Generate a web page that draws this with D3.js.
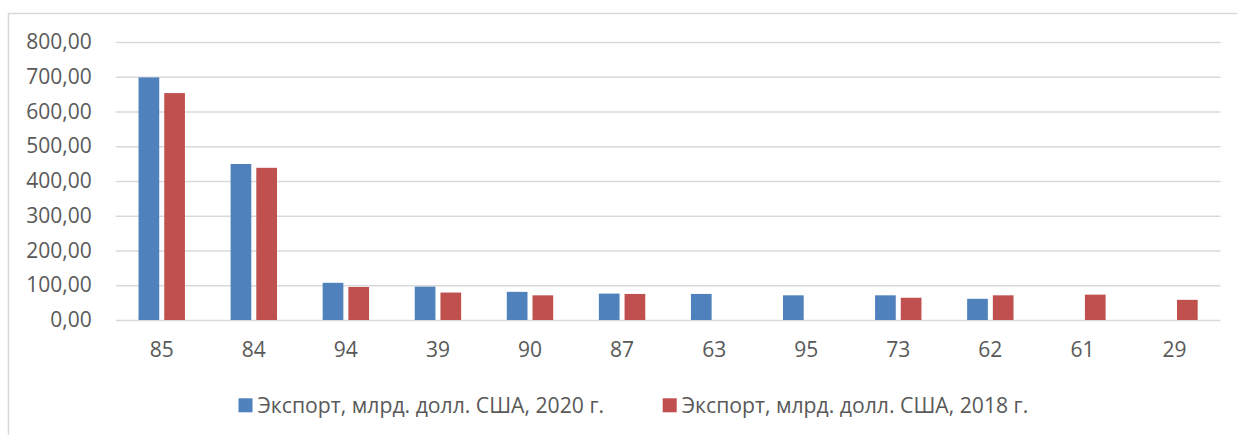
<!DOCTYPE html>
<html>
<head>
<meta charset="utf-8">
<script src="https://cdn.jsdelivr.net/npm/d3@7"></script>
<style>
  html, body { margin: 0; padding: 0; background: #fff; }
  svg { display: block; }
  text { font-family: "Open Sans", sans-serif; fill: #595959; }
</style>
</head>
<body>
<svg id="chart" width="1237" height="435"></svg>
<script>
const categories = ["85", "84", "94", "39", "90", "87", "63", "95", "73", "62", "61", "29"];
const export2020 = [698, 449, 107, 96, 81, 76, 75, 71, 71, 61, null, null];
const export2018 = [653, 438, 95, 79, 71, 75, null, null, 64, 71, 73, 58];
const seriesNames = ["Экспорт, млрд. долл. США, 2020 г.", "Экспорт, млрд. долл. США, 2018 г."];
const seriesColors = ["#4F81BD", "#C0504D"];
const yTicks = [0, 100, 200, 300, 400, 500, 600, 700, 800];

const svg = d3.select("#chart");

// frame
svg.append("rect")
  .attr("x", 8.5).attr("y", 13.5)
  .attr("width", 1240).attr("height", 430)
  .attr("fill", "none").attr("stroke", "#D9D9D9").attr("stroke-width", 1.5);

const plotLeft = 115.7, plotRight = 1220.5, plotTop = 42, plotBottom = 320;

const y = d3.scaleLinear().domain([0, 800]).range([plotBottom, plotTop]);
const x0 = d3.scaleBand().domain(categories).range([plotLeft, plotRight])
  .paddingInner(0.496).paddingOuter(0.248);
const x1 = d3.scaleBand().domain([0, 1]).range([0, x0.bandwidth()])
  .paddingInner(0.195).paddingOuter(0);

const fmt = v => d3.format(".2f")(v).replace(".", ",");

// gridlines
const yAxis = d3.axisLeft(y).tickValues(yTicks).tickSize(-(plotRight - plotLeft)).tickFormat(fmt).tickPadding(24);
const gy = svg.append("g").attr("transform", `translate(${plotLeft},0)`).call(yAxis);
gy.select(".domain").remove();
gy.selectAll(".tick line").attr("stroke", "#D9D9D9").attr("stroke-width", 1.5);
gy.selectAll(".tick text").attr("font-size", 21).style("fill", "#595959")
  .attr("font-family", "'Open Sans', sans-serif");

// bars
const series = [export2020, export2018];
series.forEach((vals, si) => {
  svg.append("g").selectAll("rect")
    .data(categories.map((c, i) => ({ c, v: vals[i] })).filter(d => d.v != null))
    .join("rect")
    .attr("x", d => x0(d.c) + x1(si))
    .attr("width", x1.bandwidth())
    .attr("y", d => y(d.v))
    .attr("height", d => y(0) - y(d.v))
    .attr("fill", seriesColors[si]);
});

// x axis
const xAxis = d3.axisBottom(x0).tickSize(0).tickPadding(22);
const gx = svg.append("g").attr("transform", `translate(0,${plotBottom})`).call(xAxis);
gx.select(".domain").remove();
gx.selectAll(".tick text").attr("font-size", 21).style("fill", "#595959")
  .attr("font-family", "'Open Sans', sans-serif");

// legend
const legendItems = [
  { x: 238.5, name: seriesNames[0], color: seriesColors[0] },
  { x: 662.7, name: seriesNames[1], color: seriesColors[1] }
];
const lg = svg.append("g");
legendItems.forEach(it => {
  lg.append("rect").attr("x", it.x).attr("y", 398.3).attr("width", 14).attr("height", 14).attr("fill", it.color);
  lg.append("text").attr("x", it.x + 19).attr("y", 413).attr("font-size", 21.2).text(it.name);
});
</script>
</body>
</html>
